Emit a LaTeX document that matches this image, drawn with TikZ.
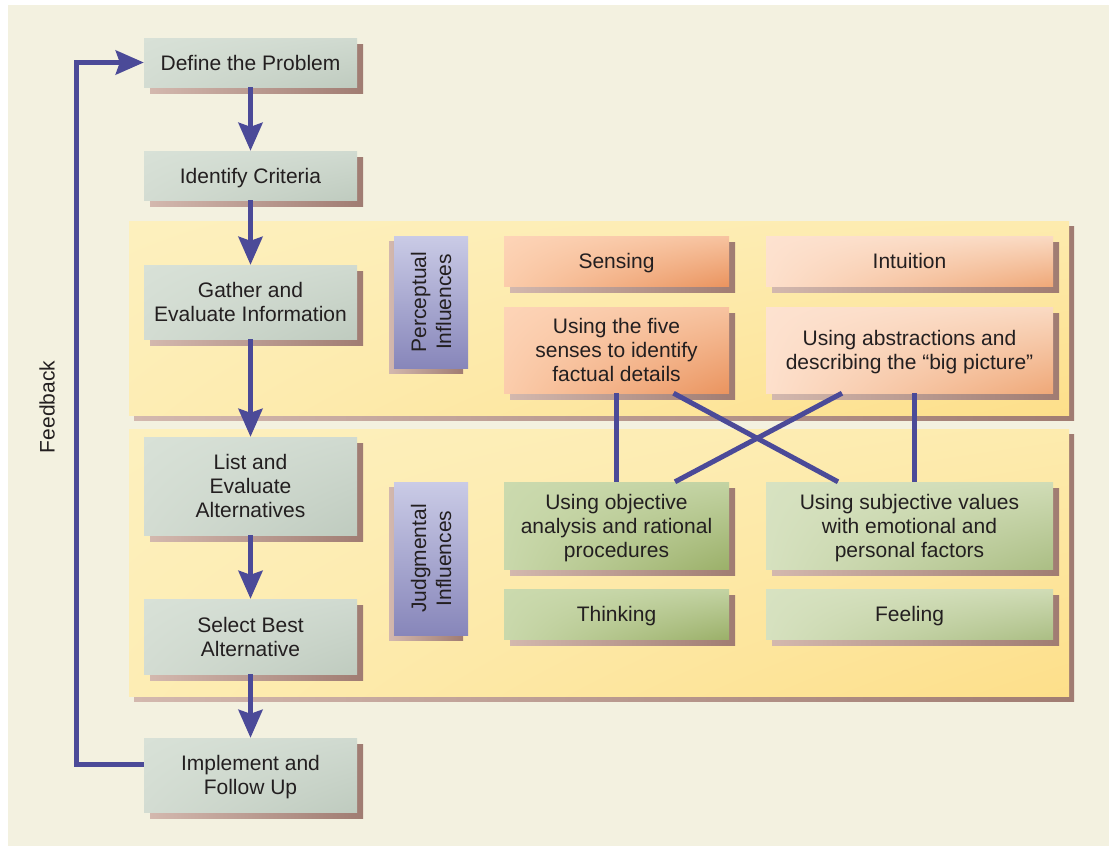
\documentclass[tikz,border=0pt]{standalone}
\usepackage{fontspec}
\setmainfont{Liberation Sans}
\usetikzlibrary{arrows.meta,shadows,shadings}

\definecolor{paper}{HTML}{F3F1E0}
\definecolor{ink}{HTML}{231F20}
\definecolor{flowblue}{HTML}{4B4A98}
\definecolor{shadowA}{HTML}{D3B8AE}
\definecolor{shadowB}{HTML}{A07C72}
% step boxes (grey green)
\definecolor{stepUL}{HTML}{D8E1D7}
\definecolor{stepUR}{HTML}{D0DAD0}
\definecolor{stepLL}{HTML}{D3DCD2}
\definecolor{stepLR}{HTML}{BFCBBF}
% panels (yellow)
\definecolor{panUL}{HTML}{FDF0BE}
\definecolor{panUR}{HTML}{FDEBAE}
\definecolor{panLL}{HTML}{FDEDB4}
\definecolor{panLR}{HTML}{FDDF8A}
% influence labels (lavender)
\definecolor{lavTop}{HTML}{CACBE6}
\definecolor{lavBot}{HTML}{8786BA}
% sensing (orange)
\definecolor{senUL}{HTML}{FDD4B7}
\definecolor{senUR}{HTML}{F7C3A0}
\definecolor{senLL}{HTML}{FBCCAB}
\definecolor{senLR}{HTML}{EA945F}
% intuition (light peach)
\definecolor{intUL}{HTML}{FDE2D0}
\definecolor{intUR}{HTML}{FADAC3}
\definecolor{intLL}{HTML}{FDE0CC}
\definecolor{intLR}{HTML}{EFA878}
% thinking (green)
\definecolor{thkUL}{HTML}{CBDAAE}
\definecolor{thkUR}{HTML}{C3D3A3}
\definecolor{thkLL}{HTML}{C9D8AB}
\definecolor{thkLR}{HTML}{9BB069}
% feeling (light green)
\definecolor{felUL}{HTML}{D7E2C1}
\definecolor{felUR}{HTML}{D0DCB6}
\definecolor{felLL}{HTML}{D6E1BF}
\definecolor{felLR}{HTML}{ABBE84}

\tikzset{
  boxbase/.style={draw=none, text=ink, align=center, inner sep=0pt,
    font=\fontsize{21}{24}\selectfont, text depth=0pt,
    drop shadow={shadow xshift=6pt, shadow yshift=-6pt, opacity=1,
      left color=shadowA, right color=shadowB}},
  stepbox/.style={boxbase, minimum width=213pt,
    upper left=stepUL, upper right=stepUR, lower left=stepLL, lower right=stepLR},
  panel/.style={draw=none, inner sep=0pt, minimum width=940pt,
    upper left=panUL, upper right=panUR, lower left=panLL, lower right=panLR,
    drop shadow={shadow xshift=5pt, shadow yshift=-5pt, opacity=1,
      left color=shadowA, right color=shadowB}},
  % set sideways: width runs up the page, height across it
  influence/.style={draw=none, text=ink, align=center, inner sep=0pt,
    font=\fontsize{21}{25}\selectfont, rotate=90, minimum height=74pt,
    top color=lavTop, bottom color=lavBot,
    drop shadow={shadow xshift=-5pt, shadow yshift=-5pt, opacity=1,
      left color=shadowA, right color=shadowB}},
  sensebox/.style={boxbase, minimum width=225pt,
    upper left=senUL, upper right=senUR, lower left=senLL, lower right=senLR},
  intuitbox/.style={boxbase, minimum width=287pt,
    upper left=intUL, upper right=intUR, lower left=intLL, lower right=intLR},
  thinkbox/.style={boxbase, minimum width=225pt,
    upper left=thkUL, upper right=thkUR, lower left=thkLL, lower right=thkLR},
  feelbox/.style={boxbase, minimum width=287pt,
    upper left=felUL, upper right=felUR, lower left=felLL, lower right=felLR},
  flow/.style={draw=flowblue, line width=5pt,
    -{Stealth[length=28pt, width=24pt, inset=4pt]}},
  link/.style={draw=flowblue, line width=5pt},
}

\begin{document}
\begin{tikzpicture}[x=1pt, y=-1pt]
  % canvas
  \useasboundingbox (0,0) rectangle (1109,847);
  \fill[white] (0,0) rectangle (1109,847);
  \fill[paper] (8,5) rectangle (1109,846);

  % yellow panels
  \node[panel, minimum height=194pt] (perpanel) at (599,318) {};
  \node[panel, minimum height=267pt] (judpanel) at (599,562.5) {};

  % decision steps
  \node[stepbox, minimum height=49pt] (define)   at (250.5,62.5)  {Define the Problem};
  \node[stepbox, minimum height=49pt] (criteria) at (250.5,175.5) {Identify Criteria};
  \node[stepbox, minimum height=74pt] (gather)   at (250.5,302)   {Gather and\\Evaluate Information};
  \node[stepbox, minimum height=98pt] (list)     at (250.5,486)   {List and\\Evaluate\\Alternatives};
  \node[stepbox, minimum height=75pt] (select)   at (250.5,636.5) {Select Best\\Alternative};
  \node[stepbox, minimum height=74pt] (impl)     at (250.5,775)   {Implement and\\Follow Up};

  % influence labels
  \node[influence, minimum width=132pt] (perlabel) at (431,302)   {Perceptual\\Influences};
  \node[influence, minimum width=153pt] (judlabel) at (431,558.5) {Judgmental\\Influences};

  % perceptual preferences
  \node[sensebox, minimum height=50pt]  (sensing)  at (616.5,261) {Sensing};
  \node[intuitbox, minimum height=50pt] (intuit)   at (909.5,261) {Intuition};
  \node[sensebox, minimum height=86pt]  (senses)   at (616.5,350) {Using the five\\senses to identify\\factual details};
  \node[intuitbox, minimum height=86pt] (abstract) at (909.5,350) {Using abstractions and\\describing the ``big picture''};

  % judgmental preferences
  \node[thinkbox, minimum height=87pt] (objective)  at (616.5,525.5) {Using objective\\analysis and rational\\procedures};
  \node[feelbox, minimum height=87pt]  (subjective) at (909.5,525.5) {Using subjective values\\with emotional and\\personal factors};
  \node[thinkbox, minimum height=50pt] (thinking)   at (616.5,614)   {Thinking};
  \node[feelbox, minimum height=50pt]  (feeling)    at (909.5,614)   {Feeling};

  % main flow
  \draw[flow] (define) -- (criteria);
  \draw[flow] (criteria) -- (gather);
  \draw[flow] (gather) -- (list);
  \draw[flow] (list) -- (select);
  \draw[flow] (select) -- (impl);

  % feedback loop
  \coordinate (fbx) at (76,0);
  \draw[flow] ([yshift=11pt]impl.west) -| (fbx |- define.west) -- (define.west);
  \node[rotate=90, text=ink, font=\fontsize{21}{24}\selectfont] (fblabel) at (47,407) {Feedback};

  % links between perception and judgment
  \draw[link] (senses.south) -- (objective.north);
  \draw[link] ([xshift=4.5pt]abstract.south) -- ([xshift=4.5pt]subjective.north);
  \draw[link] ([xshift=57pt]senses.south) -- ([xshift=-71.5pt]subjective.north);
  \draw[link] ([xshift=-67.5pt]abstract.south) -- ([xshift=58.5pt]objective.north);
\end{tikzpicture}
\end{document}
